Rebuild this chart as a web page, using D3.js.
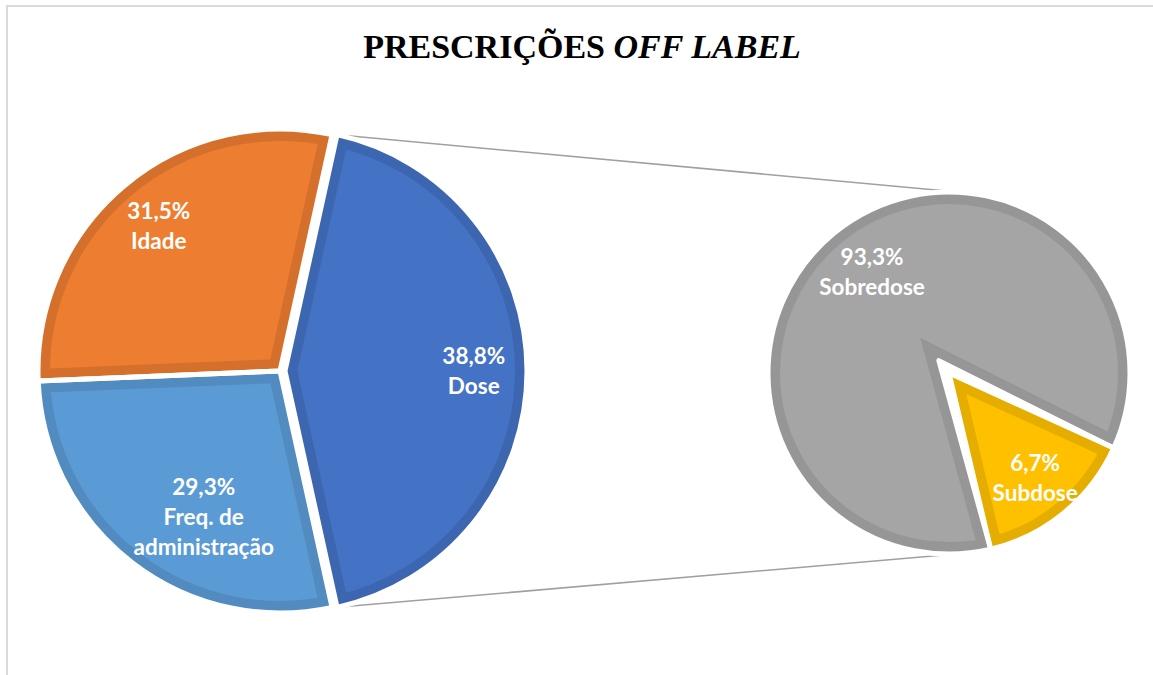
<!DOCTYPE html>
<html>
<head>
<meta charset="utf-8">
<script src="https://cdn.jsdelivr.net/npm/d3@7"></script>
<style>
  html, body { margin: 0; padding: 0; background: #fff; }
  svg { display: block; }
</style>
</head>
<body>
<div id="chart"></div>
<script>
// ---------- data ----------
const titleMain = "PRESCRIÇÕES ";
const titleItalic = "OFF LABEL";

// main pie (order: clockwise from the split slice)
const mainCategories = ["Dose", "Freq. de administração", "Idade"];
// slice sizes as drawn in the reference (share of the circle, %)
const mainSliceShares = [43.1, 27.8, 29.1];
// percentages printed on the slices
const mainPctLabels = ["38,8%", "29,3%", "31,5%"];
const mainNameLines = [["Dose"], ["Freq. de", "administração"], ["Idade"]];

// second pie: breakdown of "Dose"
const subCategories = ["Sobredose", "Subdose"];
const subSliceShares = [85.5, 14.5];
const subPctLabels = ["93,3%", "6,7%"];
const subNameLines = [["Sobredose"], ["Subdose"]];

// ---------- style / layout ----------
const W = 1153, H = 675;
const mainFill = ["#4472C4", "#5B9BD5", "#ED7D31"];
const mainBorder = ["#3D66B0", "#528BC0", "#D4702C"];
const subFill = ["#A5A5A5", "#FFC000"];
const subBorder = ["#969696", "#E5AD00"];

const mainC = { x: 280, y: 371 }, mainR = 242;
const subC = { x: 949, y: 373 }, subR = 181;
const borderW = 12, gapW = 5;
const doseExplode = 5;
const subMidDeg = 140.6;     // direction of the small slice in the second pie
const grayPull = 16;         // vertex pull-back of the big slice in the second pie

const svg = d3.select("#chart").append("svg")
  .attr("width", W).attr("height", H)
  .style("font-family", "Lato, 'Open Sans', sans-serif");

// frame
svg.append("rect")
  .attr("x", 7).attr("y", 6).attr("width", W + 20).attr("height", H + 20)
  .attr("fill", "none").attr("stroke", "#D9D9D9").attr("stroke-width", 2);

// title
const title = svg.append("text")
  .attr("x", 582).attr("y", 58)
  .attr("text-anchor", "middle")
  .style("font-family", "'Liberation Serif', 'Times New Roman', serif")
  .style("font-size", "34px").style("font-weight", "bold").attr("fill", "#000");
title.append("tspan").text(titleMain);
title.append("tspan").style("font-style", "italic").text(titleItalic);

const dir = a => ({ x: Math.sin(a), y: -Math.cos(a) });

function slicePath(c, r, a0, a1, pull) {
  const mid = (a0 + a1) / 2;
  const p = d3.path();
  const v = { x: c.x + pull * dir(mid).x, y: c.y + pull * dir(mid).y };
  p.moveTo(v.x, v.y);
  p.lineTo(c.x + r * dir(a0).x, c.y + r * dir(a0).y);
  p.arc(c.x, c.y, r, a0 - Math.PI / 2, a1 - Math.PI / 2, false);
  p.closePath();
  return p.toString();
}

let clipId = 0;
function drawSlice(g, d) {
  const id = "clip" + (clipId++);
  g.append("clipPath").attr("id", id).append("path").attr("d", d.path);
  g.append("path").attr("d", d.path)
    .attr("fill", d.fill).attr("stroke", d.border).attr("stroke-width", borderW * 2)
    .attr("clip-path", `url(#${id})`);
}

// ---------- main pie ----------
const mainTotal = d3.sum(mainSliceShares);
const doseShare = mainSliceShares[0] / mainTotal;
const mainStart = Math.PI / 2 - Math.PI * doseShare;
const mainArcs = d3.pie().sort(null).value(d => d)
  .startAngle(mainStart).endAngle(mainStart + 2 * Math.PI)(mainSliceShares);

const mainSlices = mainArcs.map((a, i) => {
  const mid = (a.startAngle + a.endAngle) / 2;
  const ex = i === 0 ? doseExplode : 0;
  const c = { x: mainC.x + ex * dir(mid).x, y: mainC.y + ex * dir(mid).y };
  return {
    i, a, mid, c,
    path: slicePath(c, mainR, a.startAngle, a.endAngle, 0),
    fill: mainFill[i], border: mainBorder[i]
  };
});

// ---------- second pie ----------
const subTotal = d3.sum(subSliceShares);
const smallShare = subSliceShares[1] / subTotal;
const subMid = subMidDeg * Math.PI / 180;
const subStartAngle = subMid + Math.PI * smallShare; // big slice starts where the small one ends
const subArcs = d3.pie().sort(null).value(d => d)
  .startAngle(subStartAngle).endAngle(subStartAngle + 2 * Math.PI)(subSliceShares);

const subSlices = subArcs.map((a, i) => {
  const mid = (a.startAngle + a.endAngle) / 2;
  return {
    i, a, mid, c: subC,
    path: slicePath(subC, subR, a.startAngle, a.endAngle, i === 0 ? grayPull : 0),
    fill: subFill[i], border: subBorder[i]
  };
});

// ---------- connector lines (tangents from Dose corners to the second pie) ----------
const dose = mainSlices[0];
function tangentPoint(P, C, r, upper) {
  const dx = P.x - C.x, dy = P.y - C.y;
  const d = Math.hypot(dx, dy);
  const base = Math.atan2(dy, dx);
  const off = Math.acos(r / d);
  const ang = upper ? base + off : base - off;
  return { x: C.x + r * Math.cos(ang), y: C.y + r * Math.sin(ang) };
}
const pTop = { x: dose.c.x + mainR * dir(dose.a.startAngle).x, y: dose.c.y + mainR * dir(dose.a.startAngle).y };
const pBot = { x: dose.c.x + mainR * dir(dose.a.endAngle).x, y: dose.c.y + mainR * dir(dose.a.endAngle).y };
const tTop = tangentPoint(pTop, subC, subR, true);
const tBot = tangentPoint(pBot, subC, subR, false);
const conn = svg.append("g");
[[pTop, tTop], [pBot, tBot]].forEach(([p, t]) => {
  conn.append("line")
    .attr("x1", p.x).attr("y1", p.y).attr("x2", t.x).attr("y2", t.y)
    .attr("stroke", "#A0A0A0").attr("stroke-width", 1.5);
});

// ---------- draw slices ----------
const gMain = svg.append("g");
mainSlices.forEach(s => drawSlice(gMain, s));
mainSlices.forEach(s => gMain.append("path").attr("d", s.path)
  .attr("fill", "none").attr("stroke", "#fff").attr("stroke-width", gapW).attr("stroke-linejoin", "round"));

const gSub = svg.append("g");
subSlices.forEach(s => drawSlice(gSub, s));
subSlices.forEach(s => gSub.append("path").attr("d", s.path)
  .attr("fill", "none").attr("stroke", "#fff").attr("stroke-width", gapW).attr("stroke-linejoin", "round"));

// ---------- labels ----------
const lineH = 30;
function drawLabel(g, s, r, frac, angOffDeg, lines, pctText) {
  const all = [pctText].concat(lines);
  const a = s.mid + angOffDeg * Math.PI / 180;
  const cx = s.c.x + r * frac * dir(a).x;
  const cy = s.c.y + r * frac * dir(a).y;
  const t = g.append("text")
    .attr("text-anchor", "middle").attr("fill", "#fff")
    .style("font-size", "22.5px").style("font-weight", "bold");
  all.forEach((ln, k) => {
    t.append("tspan").attr("x", cx)
      .attr("y", cy + (k - (all.length - 1) / 2) * lineH + 8)
      .text(ln);
  });
}
const mainFrac = [0.78, 0.68, 0.78];
const mainAngOff = [0, -10, 0];
mainSlices.forEach(s => drawLabel(svg, s, mainR, mainFrac[s.i], mainAngOff[s.i], mainNameLines[s.i], mainPctLabels[s.i]));
const subFrac = [0.70, 0.75];
const subAngOff = [2, 0];
subSlices.forEach(s => drawLabel(svg, s, subR, subFrac[s.i], subAngOff[s.i], subNameLines[s.i], subPctLabels[s.i]));
</script>
</body>
</html>
